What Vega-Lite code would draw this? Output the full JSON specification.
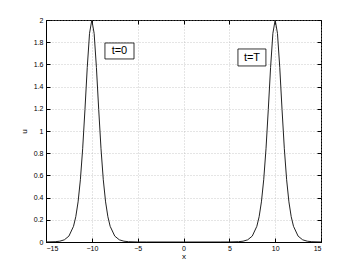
{
  "$schema": "https://vega.github.io/schema/vega-lite/v6.json",
  "width": 275,
  "height": 222,
  "autosize": {"type": "none"},
  "padding": {"left": 46, "top": 20, "right": 33, "bottom": 31},
  "background": "white",
  "config": {
    "view": {"stroke": "black", "strokeWidth": 1},
    "font": "Liberation Sans",
    "axis": {
      "domainColor": "black",
      "tickColor": "black",
      "tickSize": -4,
      "labelFontSize": 7,
      "labelColor": "black",
      "titleFontSize": 8,
      "titleFontWeight": "normal",
      "titleColor": "black",
      "gridColor": "#aaaaaa",
      "gridDash": [1, 2],
      "gridWidth": 0.6
    }
  },
  "datasets": {
    "curve": [
      {"x": -15, "u": 0.00036}, {"x": -14, "u": 0.0027}, {"x": -13.5, "u": 0.0073}, {"x": -13, "u": 0.0197},
      {"x": -12.5, "u": 0.0532}, {"x": -12, "u": 0.1413}, {"x": -11.75, "u": 0.2276}, {"x": -11.5, "u": 0.3614},
      {"x": -11.25, "u": 0.5608}, {"x": -11, "u": 0.84}, {"x": -10.75, "u": 1.1932}, {"x": -10.5, "u": 1.5729},
      {"x": -10.25, "u": 1.88}, {"x": -10, "u": 2}, {"x": -9.75, "u": 1.88}, {"x": -9.5, "u": 1.5729},
      {"x": -9.25, "u": 1.1932}, {"x": -9, "u": 0.84}, {"x": -8.75, "u": 0.5608}, {"x": -8.5, "u": 0.3614},
      {"x": -8.25, "u": 0.2276}, {"x": -8, "u": 0.1413}, {"x": -7.5, "u": 0.0532}, {"x": -7, "u": 0.0197},
      {"x": -6.5, "u": 0.0073}, {"x": -6, "u": 0.0027}, {"x": -5, "u": 0.00036}, {"x": -4, "u": 0.00005},
      {"x": 0, "u": 0}, {"x": 4, "u": 0.00005}, {"x": 5, "u": 0.00036}, {"x": 6, "u": 0.0027},
      {"x": 6.5, "u": 0.0073}, {"x": 7, "u": 0.0197}, {"x": 7.5, "u": 0.0532}, {"x": 8, "u": 0.1413},
      {"x": 8.25, "u": 0.2276}, {"x": 8.5, "u": 0.3614}, {"x": 8.75, "u": 0.5608}, {"x": 9, "u": 0.84},
      {"x": 9.25, "u": 1.1932}, {"x": 9.5, "u": 1.5729}, {"x": 9.75, "u": 1.88}, {"x": 10, "u": 2},
      {"x": 10.25, "u": 1.88}, {"x": 10.5, "u": 1.5729}, {"x": 10.75, "u": 1.1932}, {"x": 11, "u": 0.84},
      {"x": 11.25, "u": 0.5608}, {"x": 11.5, "u": 0.3614}, {"x": 11.75, "u": 0.2276}, {"x": 12, "u": 0.1413},
      {"x": 12.5, "u": 0.0532}, {"x": 13, "u": 0.0197}, {"x": 13.5, "u": 0.0073}, {"x": 14, "u": 0.0027},
      {"x": 15, "u": 0.00036}
    ],
    "labels": [
      {"label": "t=0", "x": -8.57, "x2": -5.4, "y": 1.793, "y2": 1.649, "tx": -6.99, "ty": 1.72},
      {"label": "t=T", "x": 5.94, "x2": 8.99, "y": 1.739, "y2": 1.586, "tx": 7.47, "ty": 1.66}
    ]
  },
  "layer": [
    {
      "data": {"name": "curve"},
      "mark": {"type": "line", "color": "#222222", "strokeWidth": 1, "clip": true},
      "encoding": {
        "x": {
          "field": "x", "type": "quantitative",
          "scale": {"domain": [-15, 15], "nice": false},
          "axis": {"values": [-15, -10, -5, 0, 5, 10, 15], "title": "x", "titlePadding": 1, "labelPadding": 6, "grid": true}
        },
        "y": {
          "field": "u", "type": "quantitative",
          "scale": {"domain": [0, 2], "nice": false},
          "axis": {"values": [0, 0.2, 0.4, 0.6, 0.8, 1, 1.2, 1.4, 1.6, 1.8, 2], "format": "~g", "title": "u", "titlePadding": 5, "labelPadding": 7, "grid": true}
        }
      }
    },
    {
      "data": {"name": "labels"},
      "mark": {"type": "rect", "fill": "white", "stroke": "black", "strokeWidth": 0.8},
      "encoding": {
        "x": {"field": "x", "type": "quantitative", "axis": {"orient": "top", "labels": false, "title": null, "grid": false, "domain": false, "values": [-15, -10, -5, 0, 5, 10, 15]}},
        "x2": {"field": "x2"},
        "y": {"field": "y", "type": "quantitative", "axis": {"orient": "right", "labels": false, "title": null, "grid": false, "domain": false, "values": [0, 0.2, 0.4, 0.6, 0.8, 1, 1.2, 1.4, 1.6, 1.8, 2]}},
        "y2": {"field": "y2"}
      }
    },
    {
      "data": {"name": "labels"},
      "mark": {"type": "text", "fontSize": 11, "color": "black", "align": "center", "baseline": "middle"},
      "encoding": {
        "x": {"field": "tx", "type": "quantitative", "axis": null},
        "y": {"field": "ty", "type": "quantitative", "axis": null},
        "text": {"field": "label"}
      }
    }
  ],
  "resolve": {"axis": {"x": "independent", "y": "independent"}}
}
